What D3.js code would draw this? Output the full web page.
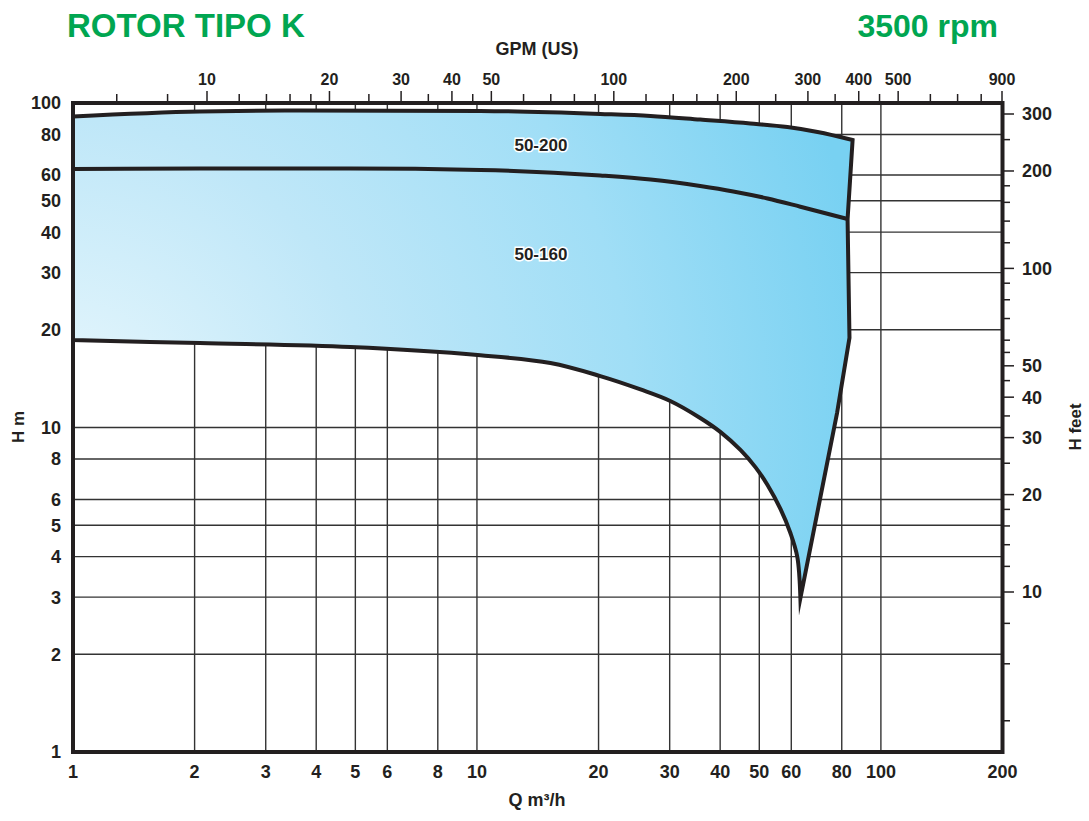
<!DOCTYPE html>
<html>
<head>
<meta charset="utf-8">
<script src="https://cdn.jsdelivr.net/npm/d3@7"></script>
<style>
  body { margin: 0; background: #fff; }
  svg { display: block; }
  text { font-family: "Liberation Sans", Arial, Helvetica, sans-serif; font-weight: bold; }
</style>
</head>
<body>
<svg id="chart" width="1089" height="821"></svg>
<script>
// Flow (m³/h) and head (m) gridlines / tick labels
const qTicks = [1, 2, 3, 4, 5, 6, 8, 10, 20, 30, 40, 50, 60, 80, 100, 200];
const hTicks = [1, 2, 3, 4, 5, 6, 8, 10, 20, 30, 40, 50, 60, 80, 100];

// Secondary scales: US gallons per minute (top) and feet of head (right)
const gpmTicks = [6, 8, 10, 12, 14, 16, 18, 20, 25, 30, 35, 40, 45, 50, 60, 70, 80, 90,
                  100, 120, 140, 160, 180, 200, 250, 300, 350, 400, 450, 500, 600, 700, 800, 900];
const gpmLabels = [10, 20, 30, 40, 50, 100, 200, 300, 400, 500, 900];
const feetTicks = [300, 250, 200, 180, 160, 140, 120, 100, 90, 80, 70, 60, 55, 50, 45, 40,
                   35, 30, 25, 20, 18, 16, 14, 12, 10, 8, 6, 4];
const feetLabels = [300, 200, 100, 50, 40, 30, 20, 10];

// Performance envelope of the K impeller range, [Q m³/h, H m]
const curveTop50200 = [[1, 90.9], [2.06, 94.2], [3.65, 94.8], [10.2, 94.5], [20.2, 92.5],
                       [26.9, 91.2], [35.7, 88.9], [47.5, 86.5], [58.7, 84.3], [69.7, 81.4], [85.1, 76.9]];
const curveTop50160 = [[1, 62.6], [2.06, 62.8], [4.86, 62.8], [10.2, 62.2], [20.2, 59.8],
                       [26.9, 58.1], [35.7, 55.5], [43.1, 53.4], [52.4, 50.8], [63.2, 47.9], [82.7, 43.9]];
const curveBottom = [[1, 18.6], [2.06, 18.2], [4.86, 17.7], [10.2, 16.7], [15.2, 15.8], [20.2, 14.4],
                     [25.4, 13.1], [30.1, 12.07], [35.7, 10.7], [40.1, 9.68], [44.9, 8.53],
                     [48.9, 7.55], [52.4, 6.65], [56.4, 5.61], [59.7, 4.73], [62.1, 3.99], [63.2, 2.98]];
const curveRight = [[85.1, 76.9], [82.7, 43.9], [83.6, 18.9], [77.9, 11.1], [63.2, 2.98]];

const modelLabels = [
  { name: "50-200", q: 14.4, h: 74.2 },
  { name: "50-160", q: 14.4, h: 34.3 }
];

const INK = "#231f20";
const GREEN = "#00a651";

const svg = d3.select("#chart");

const x = d3.scaleLog().domain([1, 200]).range([73, 1002.5]);
const y = d3.scaleLog().domain([1, 100]).range([752, 103]);
const gpm = d3.scaleLog().domain([10, 900]).range([207, 1002]);
const feet = d3.scaleLog().domain([10, 300]).range([592, 114]);

const [x0, x1] = x.range();
const [y0, y1] = y.range();

// Fill gradient: pale at low flow / low head, saturated toward the right edge
const defs = svg.append("defs");
const grad = defs.append("radialGradient")
  .attr("id", "envFill")
  .attr("gradientUnits", "userSpaceOnUse")
  .attr("cx", 60).attr("cy", 430).attr("r", 820);
[[0, "#eaf8fd"], [0.38, "#bfe7f8"], [0.7, "#a0def6"], [1, "#78d1f2"]]
  .forEach(([o, c]) => grad.append("stop").attr("offset", o).attr("stop-color", c));

// Grid
const grid = svg.append("g").attr("stroke", "#333").attr("stroke-width", 1.4);
grid.selectAll("line.v").data(qTicks.filter(d => d > 1 && d < 200)).join("line")
  .attr("x1", d => x(d)).attr("x2", d => x(d)).attr("y1", y0).attr("y2", y1);
grid.selectAll("line.h").data(hTicks.filter(d => d > 1 && d < 100)).join("line")
  .attr("y1", d => y(d)).attr("y2", d => y(d)).attr("x1", x0).attr("x2", x1);

// Envelope
const smooth = d3.line().x(d => x(d[0])).y(d => y(d[1])).curve(d3.curveMonotoneX);
const cusp = d3.line().x(d => x(d[0])).y(d => y(d[1])).curve(d3.curveCatmullRom.alpha(0.5));
const straight = d3.line().x(d => x(d[0])).y(d => y(d[1]));
const envPath = smooth(curveTop50200)
  + straight(curveRight).replace(/^M/, "L")
  + cusp(curveBottom.slice().reverse()).replace(/^M/, "L")
  + "Z";

svg.append("path")
  .attr("d", envPath)
  .attr("fill", "url(#envFill)")
  .attr("stroke", INK)
  .attr("stroke-width", 4)
  .attr("stroke-linejoin", "miter")
  .attr("stroke-miterlimit", 10);

svg.append("path")
  .attr("d", smooth(curveTop50160))
  .attr("fill", "none")
  .attr("stroke", INK)
  .attr("stroke-width", 4);

// Model labels
svg.selectAll("text.model").data(modelLabels).join("text")
  .attr("x", d => x(d.q)).attr("y", d => y(d.h))
  .attr("text-anchor", "middle").attr("dy", "0.36em")
  .attr("font-size", 17)
  .attr("fill", INK)
  .attr("stroke", "#fff").attr("stroke-width", 3).attr("paint-order", "stroke")
  .text(d => d.name);

// Frame
svg.append("rect")
  .attr("x", x0).attr("y", y1).attr("width", x1 - x0).attr("height", y0 - y1)
  .attr("fill", "none").attr("stroke", INK).attr("stroke-width", 4);

// Bottom labels (Q)
svg.append("g").selectAll("text").data(qTicks).join("text")
  .attr("x", d => x(d)).attr("y", 778)
  .attr("text-anchor", "middle").attr("font-size", 18).attr("fill", INK)
  .text(d => d);

// Left labels (H m)
svg.append("g").selectAll("text").data(hTicks).join("text")
  .attr("x", 61).attr("y", d => y(d)).attr("dy", "0.36em")
  .attr("text-anchor", "end").attr("font-size", 18).attr("fill", INK)
  .text(d => d);

// Top axis (GPM US)
const topAxis = svg.append("g");
topAxis.selectAll("line").data(gpmTicks).join("line")
  .attr("x1", d => gpm(d)).attr("x2", d => gpm(d))
  .attr("y1", 101).attr("y2", d => gpmLabels.includes(d) ? 91 : 94)
  .attr("stroke", INK).attr("stroke-width", 1.5);
topAxis.selectAll("text").data(gpmLabels).join("text")
  .attr("x", d => gpm(d)).attr("y", 85)
  .attr("text-anchor", "middle").attr("font-size", 16).attr("fill", INK)
  .text(d => d);

// Right axis (H feet)
const rightAxis = svg.append("g");
rightAxis.selectAll("line").data(feetTicks).join("line")
  .attr("y1", d => feet(d)).attr("y2", d => feet(d))
  .attr("x1", 1004).attr("x2", d => feetLabels.includes(d) ? 1014 : 1010)
  .attr("stroke", INK).attr("stroke-width", 1.5);
rightAxis.selectAll("text").data(feetLabels).join("text")
  .attr("x", 1022).attr("y", d => feet(d)).attr("dy", "0.36em")
  .attr("font-size", 18).attr("fill", INK)
  .text(d => d);

// Axis titles
svg.append("text").attr("x", 537).attr("y", 55).attr("text-anchor", "middle")
  .attr("font-size", 18).attr("fill", INK).text("GPM (US)");
svg.append("text").attr("x", 537).attr("y", 806).attr("text-anchor", "middle")
  .attr("font-size", 18).attr("fill", INK).text("Q m³/h");
svg.append("text").attr("transform", "translate(24,427) rotate(-90)").attr("text-anchor", "middle")
  .attr("font-size", 17).attr("fill", INK).text("H m");
svg.append("text").attr("transform", "translate(1081,427) rotate(-90)").attr("text-anchor", "middle")
  .attr("font-size", 17).attr("fill", INK).text("H feet");

// Headings
svg.append("text").attr("x", 67).attr("y", 37)
  .attr("font-size", 33).attr("fill", GREEN).text("ROTOR TIPO K");
svg.append("text").attr("x", 998).attr("y", 37).attr("text-anchor", "end")
  .attr("font-size", 32).attr("fill", GREEN).text("3500 rpm");
</script>
</body>
</html>
